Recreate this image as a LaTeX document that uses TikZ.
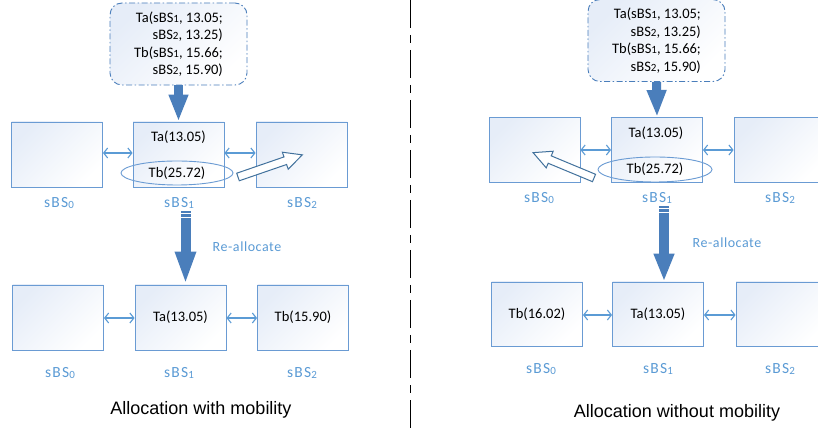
\documentclass[tikz,border=0pt]{standalone}
\usepackage{fontspec}
\setmainfont{Carlito}
\newfontfamily\arialf{Liberation Sans}
\newfontfamily\lblf[LetterSpace=8]{Carlito}
\newfontfamily\realf[LetterSpace=4]{Carlito}
\usetikzlibrary{arrows.meta,shapes.geometric}
\definecolor{boxc}{HTML}{6A9BD3}
\definecolor{lblc}{HTML}{5B9BD5}
\definecolor{arrc}{HTML}{4A7EBB}
\definecolor{arrd}{HTML}{41719C}
\definecolor{fillc}{HTML}{E6EDF8}
\newcommand{\subd}[1]{\raisebox{-0.3pt}{\fontsize{11}{11}\selectfont #1}}
\newcommand{\hollowarrow}[1]{\draw[draw=arrd, fill=white, line width=1pt, line join=miter]
  (0,-4) -- (#1-18,-4) -- (#1-18,-9) -- (#1,0) -- (#1-18,9) -- (#1-18,4) -- (0,4) -- cycle;}
\tikzset{
  bsbox/.style={draw=boxc, line width=0.9pt, top color=fillc, bottom color=white, shading angle=45,
    minimum width=91pt, minimum height=65pt, inner sep=0pt, text=black, font=\fontsize{14.5}{16}\selectfont},
  topbox/.style={draw=arrc, line width=0.9pt, dash pattern=on 6pt off 2.5pt on 1.5pt off 2.5pt,
    rounded corners=12pt, top color=fillc, bottom color=white, shading angle=45,
    minimum width=137pt, minimum height=82pt, inner sep=2pt, align=right,
    font=\fontsize{14.5}{17.5}\selectfont},
  tlabel/.style={inner sep=0pt, font=\fontsize{14.5}{16}\selectfont},
  bslabel/.style={text=lblc, inner sep=0pt, font=\lblf\fontsize{15.5}{16}\selectfont},
  realabel/.style={text=lblc, inner sep=0pt, font=\realf\fontsize{14}{16}\selectfont},
  ell/.style={ellipse, draw=boxc, line width=0.9pt, inner sep=0pt, font=\fontsize{14.5}{16}\selectfont},
  dbl/.style={draw=lblc, line width=1.1pt, >={Straight Barb[length=4pt,width=10pt]}, <->},
  bigarr/.style={draw=arrc, line width=9pt, -{Triangle[length=27pt,width=18pt]}},
  stripe/.style={fill=arrc, draw=none},
  title/.style={inner sep=0pt, font=\arialf\fontsize{18}{20}\selectfont}
}
\begin{document}
\begin{tikzpicture}[x=1pt,y=1pt]
\useasboundingbox (0,0) rectangle (818,428);
\clip (0,0) rectangle (818,428);
\fill[white] (0,0) rectangle (818,428);

% separator
\coordinate (sepT) at (410,428);
\coordinate (sepB) at (410,0);
\draw[black, line width=1pt, dash pattern=on 28pt off 7pt on 8pt off 7pt] (sepT) -- (sepB);

% ================= LEFT PANEL =================
\node[topbox] (t1) at (178.5,384) {Ta(sBS\subd1, 13.05;\\ sBS\subd2, 13.25)\\ Tb(sBS\subd1, 15.66;\\ sBS\subd2, 15.90)};

\node[bsbox] (a0) at (57,273.5) {};
\node[bsbox] (a1) at (178.5,273.5) {};
\node[bsbox] (a2) at (301.5,273.5) {};
\node[tlabel] (a1ta) at (178.5,291) {Ta(13.05)};
\node[ell, minimum width=112pt, minimum height=24pt] (a1tb) at (177,255) {Tb(25.72)};

\draw[dbl] ([yshift=1.5pt]a0.east) -- ([yshift=1.5pt]a1.west);
\draw[dbl] ([yshift=1.5pt]a1.east) -- ([yshift=1.5pt]a2.west);

\draw[bigarr] (t1.south) -- (a1.north);

\begin{scope}[shift={(238,251)}, rotate=19]
  \hollowarrow{68}
\end{scope}

\node[bslabel] (la0) at (59,225) {sBS\subd0};
\node[bslabel] (la1) at (179,225) {sBS\subd1};
\node[bslabel] (la2) at (302,225) {sBS\subd2};

\node[bsbox] (b0) at (58,110.5) {};
\node[bsbox] (b1) at (180.5,110.5) {Ta(13.05)};
\node[bsbox] (b2) at (303,110.5) {Tb(15.90)};
\draw[dbl] ([yshift=-0.5pt]b0.east) -- ([yshift=-0.5pt]b1.west);
\draw[dbl] ([yshift=-0.5pt]b1.east) -- ([yshift=-0.5pt]b2.west);

\fill[stripe] (180.5,214.5) rectangle (190.5,216.5);
\fill[stripe] (180.5,210.5) rectangle (190.5,213.5);
\coordinate (r1) at (185.5,209.5);
\draw[bigarr, line width=10pt, -{Triangle[length=33pt,width=19pt]}] (r1) -- ([xshift=5pt]b1.north);
\node[realabel] (re1) at (247,181) {Re-allocate};

\node[bslabel] (lb0) at (60,55) {sBS\subd0};
\node[bslabel] (lb1) at (179,55) {sBS\subd1};
\node[bslabel] (lb2) at (302,55) {sBS\subd2};

\node[title] (ti1) at (201,18) {Allocation with mobility};

% ================= RIGHT PANEL =================
\node[topbox] (t2) at (656.5,387.5) {Ta(sBS\subd1, 13.05;\\ sBS\subd2, 13.25)\\ Tb(sBS\subd1, 15.66;\\ sBS\subd2, 15.90)};

\node[bsbox] (c0) at (534.5,278) {};
\node[bsbox] (c1) at (657,278) {};
\node[bsbox] (c2) at (779.5,278) {};
\node[tlabel] (c1ta) at (656,295) {Ta(13.05)};
\node[ell, minimum width=114pt, minimum height=25pt] (c1tb) at (655,258.5) {Tb(25.72)};

\draw[dbl] (c0.east) -- (c1.west);
\draw[dbl] (c1.east) -- (c2.west);

\draw[bigarr] (t2.south) -- (c1.north);

\begin{scope}[shift={(594,250)}, rotate=157.4]
  \hollowarrow{66}
\end{scope}

\node[bslabel] (lc0) at (539,230) {sBS\subd0};
\node[bslabel] (lc1) at (657,230) {sBS\subd1};
\node[bslabel] (lc2) at (780,230) {sBS\subd2};

\node[bsbox, minimum height=64pt] (d0) at (537,114) {Tb(16.02)};
\node[bsbox, minimum height=64pt] (d1) at (658,114) {Ta(13.05)};
\node[bsbox, minimum height=64pt] (d2) at (781.5,114) {};
\draw[dbl] ([yshift=-1pt]d0.east) -- ([yshift=-1pt]d1.west);
\draw[dbl] ([yshift=-1pt]d1.east) -- ([yshift=-1pt]d2.west);

\fill[stripe] (659,219.5) rectangle (669,221.5);
\fill[stripe] (659,215.5) rectangle (669,218.5);
\coordinate (r2) at (664,214.5);
\draw[bigarr, line width=10pt, -{Triangle[length=28pt,width=19pt]}] (r2) -- ([xshift=6pt]d1.north);
\node[realabel] (re2) at (727,185) {Re-allocate};

\node[bslabel] (ld0) at (541,59) {sBS\subd0};
\node[bslabel] (ld1) at (658,59) {sBS\subd1};
\node[bslabel] (ld2) at (780,59) {sBS\subd2};

\node[title] (ti2) at (677,15) {Allocation without mobility};
\end{tikzpicture}
\end{document}
